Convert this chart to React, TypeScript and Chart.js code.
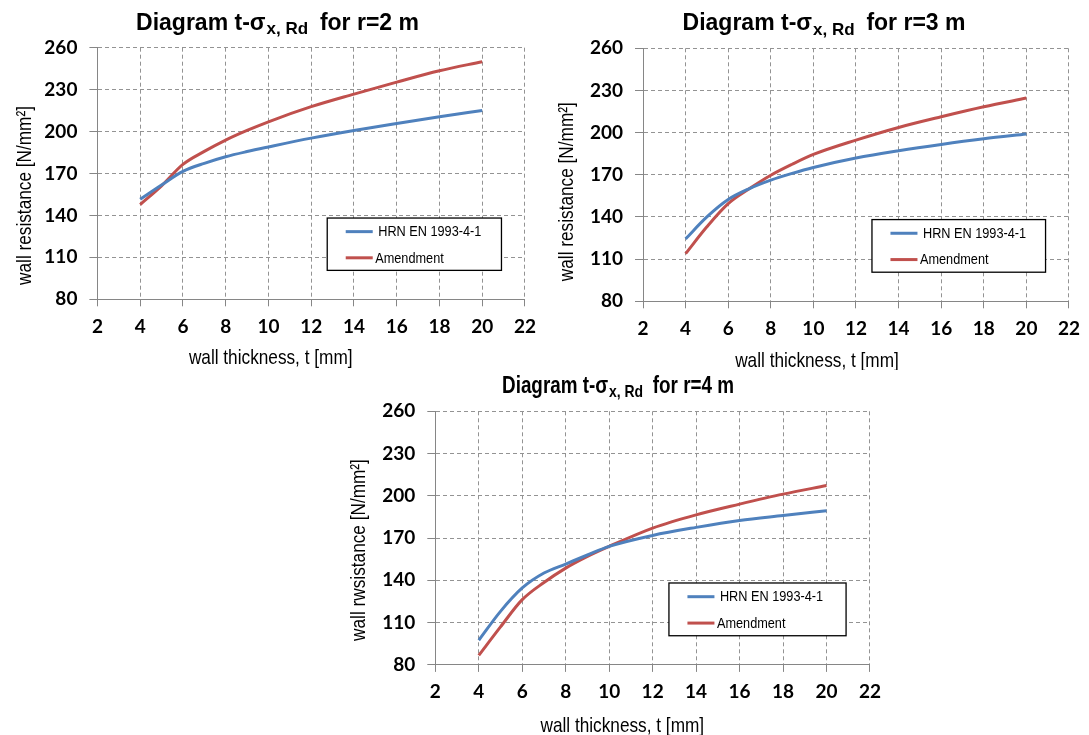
import React, { useEffect, useRef } from "react";
import { Chart, registerables } from "chart.js";

Chart.register(...registerables);

// ---------- data ----------
const thickness = [4, 5, 6, 7, 8, 9, 10, 12, 14, 16, 18, 20];

const r2Standard = [151.6, 161.8, 171.5, 177.3, 182.0, 185.7, 189.0, 195.3, 200.8, 205.8, 210.6, 215.1];
const r2Amendment = [147.8, 161.2, 176.5, 185.8, 193.9, 200.8, 207.0, 217.8, 226.8, 235.4, 243.5, 250.0];

const r3Standard = [124.4, 140.0, 152.4, 160.2, 166.2, 171.0, 175.2, 181.9, 187.1, 191.6, 195.6, 199.0];
const r3Amendment = [113.9, 133.0, 149.5, 160.2, 169.7, 177.5, 184.5, 194.7, 203.7, 211.3, 218.4, 224.6];

const r4Standard = [97.5, 118.0, 134.6, 145.2, 151.6, 158.0, 164.1, 171.9, 177.6, 182.5, 186.0, 189.4];
const r4Amendment = [86.8, 107.0, 126.3, 138.5, 148.7, 157.0, 164.1, 177.1, 186.5, 194.1, 201.2, 207.3];

const seriesNames = ["HRN EN 1993-4-1", "Amendment"];
const xAxisRange = [2, 22, 2];
const yAxisRange = [80, 260, 30];

const titleMain = "Diagram t-σ";
const titleSub = "x, Rd";
const titleTails = ["  for r=2 m", "  for r=3 m", "  for r=4 m"];
const xTitleText = "wall thickness, t [mm]";
const yTitleTexts = ["wall resistance [N/mm²]", "wall resistance [N/mm²]", "wall rwsistance [N/mm²]"];

// ---------- styles / layout ----------
const BLUE = "#4F81BD";
const RED = "#C0504D";
const AXIS = "#868686";
const GRID = "#939393";
const SANS = '"Liberation Sans", Arial, sans-serif';
const TICKFONT = 'Lato, "Open Sans", sans-serif';

type Panel = {
  canvas: { left: number; top: number; w: number; h: number };
  area: { left: number; top: number; right: number; bottom: number };
  title: { cx: number; base: number; scale: number; tail: string };
  xTitle: { cx: number; base: number };
  yTitle: { cy: number; base: number; text: string };
  std: number[];
  amd: number[];
};

const panels: Panel[] = [
  {
    canvas: { left: 0, top: 0, w: 545, h: 370 },
    area: { left: 97.4, top: 47.7, right: 530, bottom: 299.3 },
    title: { cx: 277.5, base: 29.5, scale: 1, tail: titleTails[0] },
    xTitle: { cx: 270.7, base: 364 },
    yTitle: { cy: 195.5, base: 30.5, text: yTitleTexts[0] },
    std: r2Standard,
    amd: r2Amendment,
  },
  {
    canvas: { left: 545, top: 0, w: 544, h: 370 },
    area: { left: 643, top: 48.3, right: 1077.3, bottom: 301.3 },
    title: { cx: 824, base: 30, scale: 1, tail: titleTails[1] },
    xTitle: { cx: 817, base: 367 },
    yTitle: { cy: 191.7, base: 573, text: yTitleTexts[1] },
    std: r3Standard,
    amd: r3Amendment,
  },
  {
    canvas: { left: 320, top: 370, w: 570, h: 365 },
    area: { left: 435.3, top: 411.3, right: 871.3, bottom: 664.9 },
    title: { cx: 618, base: 392.5, scale: 0.82, tail: titleTails[2] },
    xTitle: { cx: 622.3, base: 732 },
    yTitle: { cy: 550, base: 364.5, text: yTitleTexts[2] },
    std: r4Standard,
    amd: r4Amendment,
  },
];

const textPlugin = {
  id: "panelTexts",
  afterDraw(chart: any, _args: any, opts: any) {
    const p: Panel = opts.panel;
    if (!p) return;
    const ctx: CanvasRenderingContext2D = chart.ctx;
    const ox = p.canvas.left;
    const oy = p.canvas.top;
    ctx.save();
    ctx.fillStyle = "#000";
    ctx.textBaseline = "alphabetic";
    ctx.textAlign = "left";
    // title with subscript
    const fMain = `bold 23px ${SANS}`;
    const fSub = `bold 17px ${SANS}`;
    ctx.font = fMain;
    const w1 = ctx.measureText(titleMain).width;
    const w3 = ctx.measureText(p.title.tail).width;
    ctx.font = fSub;
    const w2 = ctx.measureText(titleSub).width;
    const total = (w1 + w2 + w3) * p.title.scale;
    ctx.save();
    ctx.translate(p.title.cx - ox - total / 2, p.title.base - oy);
    ctx.scale(p.title.scale, 1);
    ctx.font = fMain;
    ctx.fillText(titleMain, 0, 0);
    ctx.font = fSub;
    ctx.fillText(titleSub, w1 + 1, 4.5);
    ctx.font = fMain;
    ctx.fillText(p.title.tail, w1 + w2, 0);
    ctx.restore();

    // x axis title
    const fAxis = `21px ${SANS}`;
    ctx.font = fAxis;
    ctx.save();
    ctx.translate(p.xTitle.cx - ox, p.xTitle.base - oy);
    ctx.scale(0.82, 1);
    ctx.textAlign = "center";
    ctx.fillText(xTitleText, 0, 0);
    ctx.restore();

    // y axis title
    ctx.save();
    ctx.translate(p.yTitle.base - ox, p.yTitle.cy - oy);
    ctx.rotate(-Math.PI / 2);
    ctx.scale(0.82, 1);
    ctx.textAlign = "center";
    ctx.fillText(p.yTitle.text, 0, 0);
    ctx.restore();
    ctx.restore();
  },
};

const legendBoxPlugin = {
  id: "legendBox",
  afterDraw(chart: any) {
    const ctx: CanvasRenderingContext2D = chart.ctx;
    const a = chart.chartArea;
    const w = a.right - a.left;
    const h = a.bottom - a.top;
    const x0 = a.left + w * 0.5375;
    const x1 = a.left + w * 0.945;
    const y0 = a.top + h * 0.677;
    const y1 = a.top + h * 0.885;
    ctx.save();
    ctx.fillStyle = "#fff";
    ctx.fillRect(x0, y0, x1 - x0, y1 - y0);
    ctx.strokeStyle = "#000";
    ctx.lineWidth = 1.3;
    ctx.strokeRect(x0, y0, x1 - x0, y1 - y0);
    const rows = [0.26, 0.76];
    const textOffsets = [51, 48];
    chart.data.datasets.forEach((ds: any, i: number) => {
      const y = y0 + (y1 - y0) * rows[i];
      ctx.strokeStyle = ds.borderColor;
      ctx.lineWidth = 3;
      ctx.beginPath();
      ctx.moveTo(x0 + 18.5, y);
      ctx.lineTo(x0 + 45.5, y);
      ctx.stroke();
      ctx.save();
      ctx.translate(x0 + textOffsets[i], y);
      ctx.scale(0.82, 1);
      ctx.fillStyle = "#000";
      ctx.font = `15.5px ${SANS}`;
      ctx.textBaseline = "middle";
      ctx.textAlign = "left";
      ctx.fillText(ds.label, 0, 0.5);
      ctx.restore();
    });
    ctx.restore();
  },
};

function buildConfig(p: Panel): any {
  const yW = p.area.left - p.canvas.left;
  const xH = p.canvas.top + p.canvas.h - p.area.bottom;
  return {
    type: "line",
    data: {
      datasets: [
        {
          label: seriesNames[0],
          data: thickness.map((t, i) => ({ x: t, y: p.std[i] })),
          borderColor: BLUE,
          backgroundColor: BLUE,
          borderWidth: 3,
          pointRadius: 0,
          cubicInterpolationMode: "monotone",
          fill: false,
        },
        {
          label: seriesNames[1],
          data: thickness.map((t, i) => ({ x: t, y: p.amd[i] })),
          borderColor: RED,
          backgroundColor: RED,
          borderWidth: 3,
          pointRadius: 0,
          cubicInterpolationMode: "monotone",
          fill: false,
        },
      ],
    },
    options: {
      animation: false,
      responsive: false,
      events: [],
      layout: {
        padding: {
          left: 0,
          top: p.area.top - p.canvas.top,
          right: p.canvas.left + p.canvas.w - p.area.right,
          bottom: 0,
        },
      },
      plugins: {
        legend: { display: false },
        title: { display: false },
        tooltip: { enabled: false },
        panelTexts: { panel: p },
      },
      scales: {
        x: {
          type: "linear",
          min: xAxisRange[0],
          max: xAxisRange[1],
          afterFit: (s: any) => {
            s.height = xH;
          },
          ticks: {
            stepSize: xAxisRange[2],
            color: "#000",
            padding: 9,
            font: { family: TICKFONT, weight: "bold", size: 19 },
            maxRotation: 0,
          },
          grid: { color: GRID, lineWidth: 1, tickLength: 7, tickColor: AXIS, tickBorderDash: [] },
          border: { display: true, color: AXIS, width: 1, dash: [4, 3] },
        },
        y: {
          type: "linear",
          min: yAxisRange[0],
          max: yAxisRange[1],
          afterFit: (s: any) => {
            s.width = yW;
          },
          ticks: {
            stepSize: yAxisRange[2],
            color: "#000",
            padding: 12,
            font: { family: TICKFONT, weight: "bold", size: 19 },
          },
          grid: { color: GRID, lineWidth: 1, tickLength: 8, tickColor: AXIS, tickBorderDash: [] },
          border: { display: true, color: AXIS, width: 1, dash: [4, 3] },
        },
      },
    },
    plugins: [textPlugin, legendBoxPlugin],
  };
}

function PanelChart({ p }: { p: Panel }) {
  const ref = useRef<HTMLCanvasElement | null>(null);
  useEffect(() => {
    if (!ref.current) return;
    const chart = new Chart(ref.current, buildConfig(p));
    return () => chart.destroy();
  }, [p]);
  return (
    <canvas
      ref={ref}
      width={p.canvas.w}
      height={p.canvas.h}
      style={{
        position: "absolute",
        left: p.canvas.left,
        top: p.canvas.top,
        width: p.canvas.w,
        height: p.canvas.h,
      }}
    />
  );
}

export default function App() {
  return (
    <div
      style={{
        position: "absolute",
        left: 0,
        top: 0,
        width: 1089,
        height: 735,
        background: "#fff",
        overflow: "hidden",
      }}
    >
      {panels.map((p, i) => (
        <PanelChart key={i} p={p} />
      ))}
    </div>
  );
}
